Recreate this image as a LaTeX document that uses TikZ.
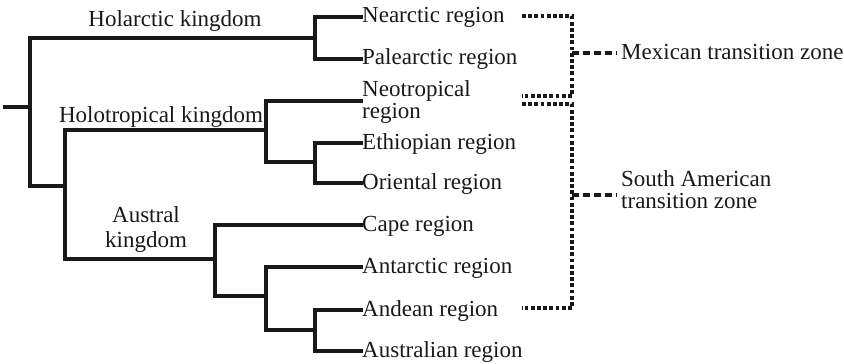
\documentclass[tikz,border=0pt]{standalone}
\usepackage{fontspec}
\setmainfont{Liberation Serif}
\begin{document}
\begin{tikzpicture}[x=1pt,y=-1pt,
  tree/.style={line width=3.4pt,black!90,line join=miter,line cap=rect},
  dotline/.style={line width=3.6pt,black!90,dash pattern=on 3.8pt off 2.4pt},
  dashline/.style={line width=3.2pt,black!90,dash pattern=on 7pt off 4pt},
  lbl/.style={inner sep=0pt,font=\fontsize{23}{21.5}\selectfont,text=black!90},
  leaf/.style={lbl,anchor=base west}]
\useasboundingbox (0,0) rectangle (844,364);
% leaves
\node[leaf] (nea) at (362,22) {Nearctic region};
\node[leaf] (pal) at (362,64) {Palearctic region};
\node[leaf,align=left] (neo) at (362,118) {Neotropical\\region};
\node[leaf] (eth) at (362,149) {Ethiopian region};
\node[leaf] (ori) at (362,189) {Oriental region};
\node[leaf] (cap) at (362,231) {Cape region};
\node[leaf] (ant) at (362,273) {Antarctic region};
\node[leaf] (and) at (362,316) {Andean region};
\node[leaf] (aus) at (362,357) {Australian region};
% kingdom labels
\node[lbl,anchor=base] (holk) at (175,27) {Holarctic kingdom};
\node[lbl,anchor=base] (htk) at (161,122) {Holotropical kingdom};
\node[lbl,anchor=base,align=center,font=\fontsize{23}{25}\selectfont] (ausk) at (146,247) {Austral\\kingdom};
% transition zones
\node[leaf] (mex) at (621,59) {Mexican transition zone};
\node[leaf,align=left,font=\fontsize{23}{21.5}\selectfont] (sat) at (621,208) {South American\\transition zone};
% internal points
\coordinate (stub) at (5,107);
\coordinate (R) at (30,107);
\coordinate (Hk) at (315,38);
\coordinate (L1) at (65,186);
\coordinate (Ht) at (266,130);
\coordinate (EO) at (315,162);
\coordinate (Au) at (215,259);
\coordinate (An) at (266,296);
\coordinate (AA) at (315,330);
% tree
\draw[tree] (stub) -- (R);
\draw[tree] (R) |- (Hk);
\draw[tree] (R) |- (L1);
\draw[tree] (Hk) |- ([xshift=-1pt,yshift=5pt]nea.base west);
\draw[tree] (Hk) |- ([xshift=-1pt,yshift=5pt]pal.base west);
\draw[tree] (L1) |- (Ht);
\draw[tree] (L1) |- (Au);
\draw[tree] (Ht) |- ([xshift=-1pt,yshift=17pt]neo.base west);
\draw[tree] (Ht) |- (EO);
\draw[tree] (EO) |- ([xshift=-1pt,yshift=6pt]eth.base west);
\draw[tree] (EO) |- ([xshift=-1pt,yshift=6pt]ori.base west);
\draw[tree] (Au) |- ([xshift=-1pt,yshift=6pt]cap.base west);
\draw[tree] (Au) |- (An);
\draw[tree] (An) |- ([xshift=-1pt,yshift=6pt]ant.base west);
\draw[tree] (An) |- (AA);
\draw[tree] (AA) |- ([xshift=-1pt,yshift=6pt]and.base west);
\draw[tree] (AA) |- ([xshift=-1pt,yshift=6pt]aus.base west);
% dotted brackets
\coordinate (d1a) at (522,16);
\coordinate (d1b) at (572,16);
\coordinate (d1c) at (572,96);
\coordinate (d1d) at (522,96);
\coordinate (d1m) at (572,53);
\coordinate (d2a) at (522,104);
\coordinate (d2b) at (572,104);
\coordinate (d2c) at (572,308);
\coordinate (d2d) at (522,308);
\coordinate (d2m) at (572,195);
\draw[dotline] (d1a) -- (d1b) -- (d1c) -- (d1d);
\draw[dotline] (d2a) -- (d2b) -- (d2c) -- (d2d);
\draw[dashline] (d1m) -- ([xshift=-4pt,yshift=6pt]mex.base west);
\draw[dashline] (d2m) -- ([xshift=-4pt,yshift=13pt]sat.base west);
\end{tikzpicture}
\end{document}
